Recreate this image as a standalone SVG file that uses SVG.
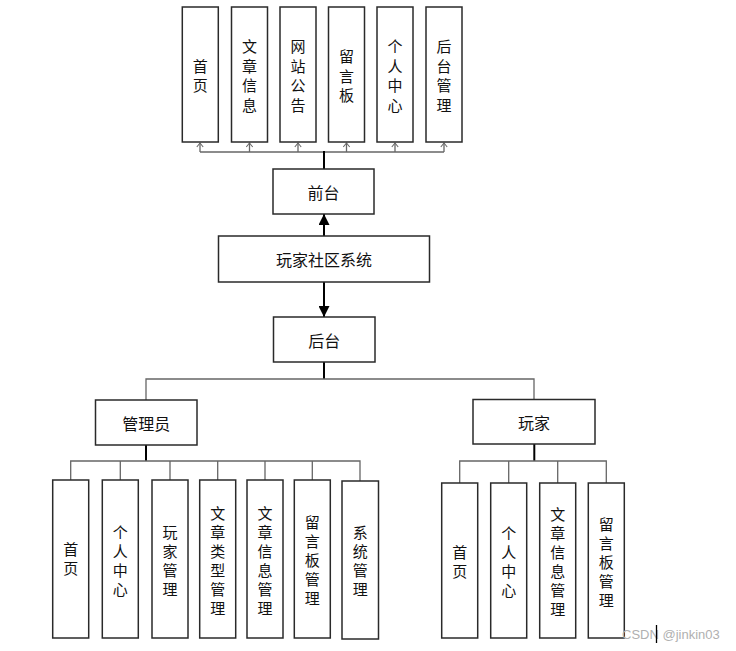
<svg xmlns="http://www.w3.org/2000/svg" width="736" height="651" viewBox="0 0 736 651">
<style>
.box{fill:#fff;stroke:#2a2a2a;stroke-width:1.5}
.t{font-family:"Noto Sans CJK SC","Noto Sans",sans-serif;font-size:16px;fill:#111;text-anchor:middle;dominant-baseline:central}
.v{font-size:15px}
.ln{fill:none;stroke:#666;stroke-width:1.3}
.tk{fill:none;stroke:#000;stroke-width:2}
.wm{font-family:"Liberation Sans",Arial,sans-serif;font-size:13px;fill:#b0b0b0}
</style>
<defs>
<marker id="open" viewBox="0 0 10 10" refX="9" refY="5" markerWidth="8" markerHeight="8" markerUnits="userSpaceOnUse" orient="auto">
<path d="M4,1 L9,5 L4,9" fill="none" stroke="#666" stroke-width="1.3"/>
</marker>
<marker id="fill" viewBox="0 0 10 10" refX="10" refY="5" markerWidth="11" markerHeight="11" markerUnits="userSpaceOnUse" orient="auto">
<path d="M0,0 L10,5 L0,10 Z" fill="#000"/>
</marker>
</defs>
<rect width="736" height="651" fill="#fff"/>

<g id="connectors">
<path class="ln" d="M200,152 H444"/>
<line class="ln" x1="200" y1="152" x2="200" y2="143" marker-end="url(#open)"/>
<line class="ln" x1="249.5" y1="152" x2="249.5" y2="143" marker-end="url(#open)"/>
<line class="ln" x1="298" y1="152" x2="298" y2="143" marker-end="url(#open)"/>
<line class="ln" x1="346.5" y1="152" x2="346.5" y2="143" marker-end="url(#open)"/>
<line class="ln" x1="395" y1="152" x2="395" y2="143" marker-end="url(#open)"/>
<line class="ln" x1="444" y1="152" x2="444" y2="143" marker-end="url(#open)"/>
<path class="tk" d="M324,169 V151"/>
<line class="tk" x1="324" y1="236" x2="324" y2="214" marker-end="url(#fill)"/>
<line class="tk" x1="324" y1="282" x2="324" y2="317" marker-end="url(#fill)"/>
<path class="tk" d="M324,362 V379"/>
<path class="ln" d="M146,400 V379 H534 V400"/>
<path class="tk" d="M146,445 V461"/>
<path class="ln" d="M70.7,480 V461 H360 V481"/>
<path class="ln" d="M120.3,480 V461 M170,480 V461 M217.7,480 V461 M265,480 V461 M312.3,480 V461"/>
<path class="tk" d="M534.3,444 V461"/>
<path class="ln" d="M459.7,483 V461 H606.3 V483"/>
<path class="ln" d="M508.7,483 V461 M557.7,483 V461"/>
</g>

<g id="n-top1"><rect class="box" x="182.3" y="7" width="36" height="135"/><text class="t v"><tspan x="200.3" y="64.75">首</tspan><tspan x="200.3" y="84.25">页</tspan></text></g>
<g id="n-top2"><rect class="box" x="231.5" y="7" width="36" height="135"/><text class="t v"><tspan x="249.5" y="45.25">文</tspan><tspan x="249.5" y="64.75">章</tspan><tspan x="249.5" y="84.25">信</tspan><tspan x="249.5" y="103.75">息</tspan></text></g>
<g id="n-top3"><rect class="box" x="280" y="7" width="36" height="135"/><text class="t v"><tspan x="298" y="45.25">网</tspan><tspan x="298" y="64.75">站</tspan><tspan x="298" y="84.25">公</tspan><tspan x="298" y="103.75">告</tspan></text></g>
<g id="n-top4"><rect class="box" x="328.5" y="7" width="36" height="135"/><text class="t v"><tspan x="346.5" y="55">留</tspan><tspan x="346.5" y="74.5">言</tspan><tspan x="346.5" y="94">板</tspan></text></g>
<g id="n-top5"><rect class="box" x="377" y="7" width="36" height="135"/><text class="t v"><tspan x="395" y="45.25">个</tspan><tspan x="395" y="64.75">人</tspan><tspan x="395" y="84.25">中</tspan><tspan x="395" y="103.75">心</tspan></text></g>
<g id="n-top6"><rect class="box" x="426" y="7" width="36" height="135"/><text class="t v"><tspan x="444" y="45.25">后</tspan><tspan x="444" y="64.75">台</tspan><tspan x="444" y="84.25">管</tspan><tspan x="444" y="103.75">理</tspan></text></g>

<g id="n-front"><rect class="box" x="273" y="169" width="101" height="45"/><text class="t" x="323.5" y="191.5">前台</text></g>
<g id="n-system"><rect class="box" x="218.5" y="236" width="211" height="46"/><text class="t" x="324" y="259">玩家社区系统</text></g>
<g id="n-back"><rect class="box" x="273.5" y="317" width="101.5" height="45"/><text class="t" x="324.2" y="339.5">后台</text></g>
<g id="n-admin"><rect class="box" x="95.5" y="400" width="101.5" height="45"/><text class="t" x="146.2" y="422.5">管理员</text></g>
<g id="n-player"><rect class="box" x="473" y="399.5" width="122" height="44.5"/><text class="t" x="534" y="421.7">玩家</text></g>

<g id="n-a1"><rect class="box" x="52.7" y="480" width="36" height="158"/><text class="t v"><tspan x="70.7" y="548">首</tspan><tspan x="70.7" y="567">页</tspan></text></g>
<g id="n-a2"><rect class="box" x="102.3" y="480" width="36" height="158"/><text class="t v"><tspan x="120.3" y="530.5">个</tspan><tspan x="120.3" y="549.5">人</tspan><tspan x="120.3" y="568.5">中</tspan><tspan x="120.3" y="587.5">心</tspan></text></g>
<g id="n-a3"><rect class="box" x="152" y="480" width="36" height="158"/><text class="t v"><tspan x="170" y="530.5">玩</tspan><tspan x="170" y="549.5">家</tspan><tspan x="170" y="568.5">管</tspan><tspan x="170" y="587.5">理</tspan></text></g>
<g id="n-a4"><rect class="box" x="199.7" y="480" width="36" height="158"/><text class="t v"><tspan x="217.7" y="511.5">文</tspan><tspan x="217.7" y="530.5">章</tspan><tspan x="217.7" y="549.5">类</tspan><tspan x="217.7" y="568.5">型</tspan><tspan x="217.7" y="587.5">管</tspan><tspan x="217.7" y="606.5">理</tspan></text></g>
<g id="n-a5"><rect class="box" x="247" y="480" width="36" height="158"/><text class="t v"><tspan x="265" y="511.5">文</tspan><tspan x="265" y="530.5">章</tspan><tspan x="265" y="549.5">信</tspan><tspan x="265" y="568.5">息</tspan><tspan x="265" y="587.5">管</tspan><tspan x="265" y="606.5">理</tspan></text></g>
<g id="n-a6"><rect class="box" x="294.3" y="480" width="36" height="158"/><text class="t v"><tspan x="312.3" y="521">留</tspan><tspan x="312.3" y="540">言</tspan><tspan x="312.3" y="559">板</tspan><tspan x="312.3" y="578">管</tspan><tspan x="312.3" y="597">理</tspan></text></g>
<g id="n-a7"><rect class="box" x="342" y="481" width="36.5" height="158"/><text class="t v"><tspan x="360.2" y="531">系</tspan><tspan x="360.2" y="550">统</tspan><tspan x="360.2" y="569">管</tspan><tspan x="360.2" y="588">理</tspan></text></g>

<g id="n-p1"><rect class="box" x="441.7" y="483" width="36" height="155"/><text class="t v"><tspan x="459.7" y="551">首</tspan><tspan x="459.7" y="570">页</tspan></text></g>
<g id="n-p2"><rect class="box" x="490.7" y="483" width="36" height="155"/><text class="t v"><tspan x="508.7" y="532">个</tspan><tspan x="508.7" y="551">人</tspan><tspan x="508.7" y="570">中</tspan><tspan x="508.7" y="589">心</tspan></text></g>
<g id="n-p3"><rect class="box" x="539.7" y="483" width="36" height="155"/><text class="t v"><tspan x="557.7" y="513">文</tspan><tspan x="557.7" y="532">章</tspan><tspan x="557.7" y="551">信</tspan><tspan x="557.7" y="570">息</tspan><tspan x="557.7" y="589">管</tspan><tspan x="557.7" y="608">理</tspan></text></g>
<g id="n-p4"><rect class="box" x="588.3" y="483" width="36" height="155"/><text class="t v"><tspan x="606.3" y="522.5">留</tspan><tspan x="606.3" y="541.5">言</tspan><tspan x="606.3" y="560.5">板</tspan><tspan x="606.3" y="579.5">管</tspan><tspan x="606.3" y="598.5">理</tspan></text></g>

<text class="wm" x="622" y="639">CSDN @jinkin03</text>
<line x1="656.5" y1="625" x2="656.5" y2="643" stroke="#000" stroke-width="1.3"/>
</svg>
